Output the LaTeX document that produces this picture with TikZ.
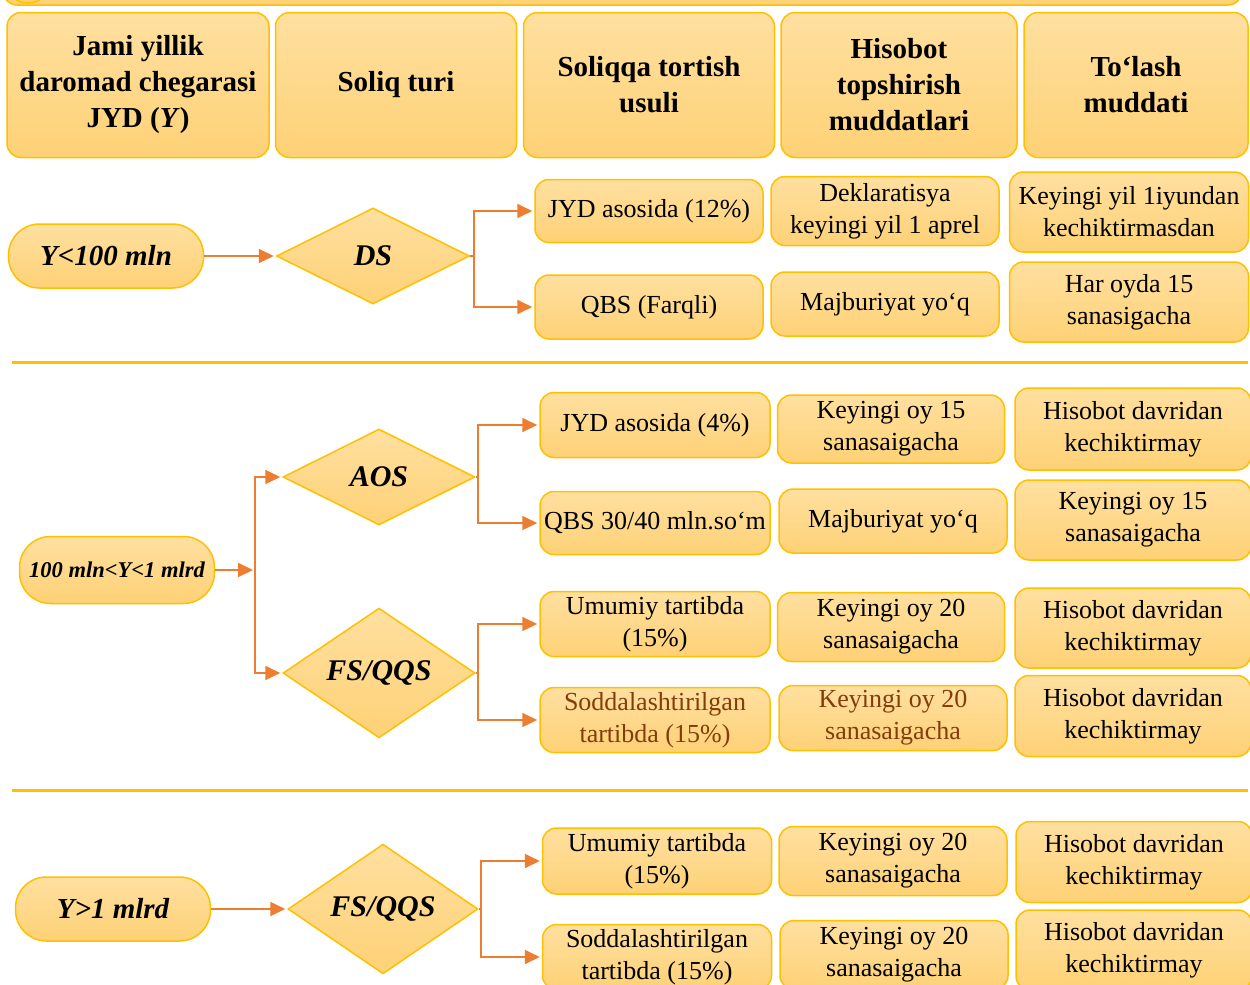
\documentclass[tikz,border=0pt]{standalone}
\usepackage{fontspec}
\setmainfont{Liberation Serif}
\usetikzlibrary{shapes.geometric}
\usetikzlibrary{arrows.meta}

\definecolor{boxline}{RGB}{255,192,0}
\definecolor{boxtop}{RGB}{255,224,160}
\definecolor{boxbot}{RGB}{254,209,118}
\definecolor{arrcol}{RGB}{237,125,49}
\definecolor{darkbrown}{RGB}{132,60,12}

\tikzset{
  box/.style={draw=boxline, line width=1.5pt, rounded corners=14pt, top color=boxtop, bottom color=boxbot,
    align=center, inner sep=2pt, font=\fontsize{26}{32}\selectfont},
  hdr/.style={box, font=\fontsize{29}{36}\selectfont\bfseries, minimum height=145pt},
  pill/.style={box, rounded corners=31pt, font=\fontsize{29}{34}\selectfont\bfseries\itshape, minimum width=195pt, minimum height=64pt},
  dia/.style={diamond, draw=boxline, line width=1.5pt, top color=boxtop, bottom color=boxbot, inner sep=0pt,
    minimum width=193pt, minimum height=96pt, font=\fontsize{30}{34}\selectfont\bfseries\itshape},
  link/.style={draw=arrcol, line width=1.8pt},
  arrow/.style={link, -{Triangle[length=15pt,width=14pt]}, shorten >=2pt},
  sep/.style={draw=boxline, line width=3pt},
}

\begin{document}
\begin{tikzpicture}[x=1pt,y=-1pt]
\useasboundingbox (0,0) rectangle (1250,985);
\clip (0,0) rectangle (1250,985);

% cut-off box on top
\path[box] (3,-80) rectangle (1242,5);
\draw[draw=boxline, line width=1.5pt, fill=boxbot] (28,-20) circle (23);

% header row
\node[hdr, minimum width=262pt] (h1) at (138,85) {Jami yillik\\daromad chegarasi\\JYD (\textit{Y})};
\node[hdr, minimum width=241pt] (h2) at (396,85) {Soliq turi};
\node[hdr, minimum width=251pt] (h3) at (649,85) {Soliqqa tortish\\usuli};
\node[hdr, minimum width=236pt] (h4) at (899,85) {Hisobot\\topshirish\\muddatlari};
\node[hdr, minimum width=224pt] (h5) at (1136,85) {To‘lash\\muddati};

% Y<100 mln
\node[pill] (y1) at (106,256) {Y<100 mln};
\node[dia] (ds) at (373,256) {DS};
\node[box, minimum width=228pt, minimum height=63pt] (m11) at (649,211) {JYD asosida (12\%)};
\node[box, minimum width=228pt, minimum height=64pt] (m12) at (649,307) {QBS (Farqli)};
\node[box, minimum width=228pt, minimum height=69pt] (r11) at (885,211) {Deklaratisya\\keyingi yil 1 aprel};
\node[box, minimum width=228pt, minimum height=64pt] (r12) at (885,304) {Majburiyat yo‘q};
\node[box, minimum width=239pt, minimum height=80pt] (p11) at (1129,212) {Keyingi yil 1iyundan\\kechiktirmasdan};
\node[box, minimum width=239pt, minimum height=80pt] (p12) at (1129,302) {Har oyda 15\\sanasigacha};

\draw[arrow] (y1.east) -- (ds.west);
\draw[link] (ds.east) -- ++(4,0) coordinate (ds-r);
\draw[arrow] (ds-r) |- (m11.west);
\draw[arrow] (ds-r) |- (m12.west);

\draw[sep] (12,362) -- (1248,362);

% 100 mln<Y<1 mlrd
\node[pill, font=\fontsize{22.5}{26}\selectfont\bfseries\itshape, minimum height=67pt] (y2) at (117,570) {100 mln<Y<1 mlrd};
\coordinate (y2-r) at (255,570);
\node[dia, minimum width=192pt] (aos) at (379,477) {AOS};
\node[dia, minimum width=192pt] (fs2) at (379,673) {FS/QQS};
\node[box, minimum width=230pt, minimum height=65pt] (m21) at (655,425) {JYD asosida (4\%)};
\node[box, minimum width=230pt, minimum height=63pt] (m22) at (655,523) {QBS 30/40 mln.so‘m};
\node[box, minimum width=227pt, minimum height=68pt] (r21) at (891,429) {Keyingi oy 15\\sanasaigacha};
\node[box, minimum width=228pt, minimum height=64pt] (r22) at (893,521) {Majburiyat yo‘q};
\node[box, minimum width=236pt, minimum height=82pt] (p21) at (1133,429) {Hisobot davridan\\kechiktirmay};
\node[box, minimum width=236pt, minimum height=80pt] (p22) at (1133,520) {Keyingi oy 15\\sanasaigacha};
\node[box, minimum width=230pt, minimum height=65pt] (m23) at (655,624) {Umumiy tartibda\\(15\%)};
\node[box, minimum width=230pt, minimum height=65pt, text=darkbrown] (m24) at (655,720) {Soddalashtirilgan\\tartibda (15\%)};
\node[box, minimum width=227pt, minimum height=69pt] (r23) at (891,627) {Keyingi oy 20\\sanasaigacha};
\node[box, minimum width=228pt, minimum height=65pt, text=darkbrown] (r24) at (893,718) {Keyingi oy 20\\sanasaigacha};
\node[box, minimum width=236pt, minimum height=80pt] (p23) at (1133,628) {Hisobot davridan\\kechiktirmay};
\node[box, minimum width=236pt, minimum height=81pt] (p24) at (1133,716) {Hisobot davridan\\kechiktirmay};

\draw[arrow] (y2.east) -- (y2-r);
\draw[arrow] (y2-r) |- (aos.west);
\draw[arrow] (y2-r) |- (fs2.west);
\draw[link] (aos.east) -- ++(2,0) coordinate (aos-r);
\draw[arrow] (aos-r) |- (m21.west);
\draw[arrow] (aos-r) |- (m22.west);
\draw[link] (fs2.east) -- ++(2,0) coordinate (fs2-r);
\draw[arrow] (fs2-r) |- (m23.west);
\draw[arrow] (fs2-r) |- (m24.west);

\draw[sep] (12,790) -- (1248,790);

% Y>1 mlrd
\node[pill] (y3) at (113,909) {Y>1 mlrd};
\node[dia, minimum width=190pt, minimum height=98pt] (fs3) at (383,909) {FS/QQS};
\node[box, minimum width=229pt, minimum height=66pt] (m31) at (657,861) {Umumiy tartibda\\(15\%)};
\node[box, minimum width=229pt, minimum height=65pt] (m32) at (657,957) {Soddalashtirilgan\\tartibda (15\%)};
\node[box, minimum width=228pt, minimum height=69pt] (r31) at (893,861) {Keyingi oy 20\\sanasaigacha};
\node[box, minimum width=228pt, minimum height=69pt] (r32) at (894,955) {Keyingi oy 20\\sanasaigacha};
\node[box, minimum width=236pt, minimum height=81pt] (p31) at (1134,862) {Hisobot davridan\\kechiktirmay};
\node[box, minimum width=236pt, minimum height=80pt] (p32) at (1134,950) {Hisobot davridan\\kechiktirmay};

\draw[arrow] (y3.east) -- (fs3.west);
\draw[link] (fs3.east) -- ++(2,0) coordinate (fs3-r);
\draw[arrow] (fs3-r) |- (m31.west);
\draw[arrow] (fs3-r) |- (m32.west);

\end{tikzpicture}
\end{document}
